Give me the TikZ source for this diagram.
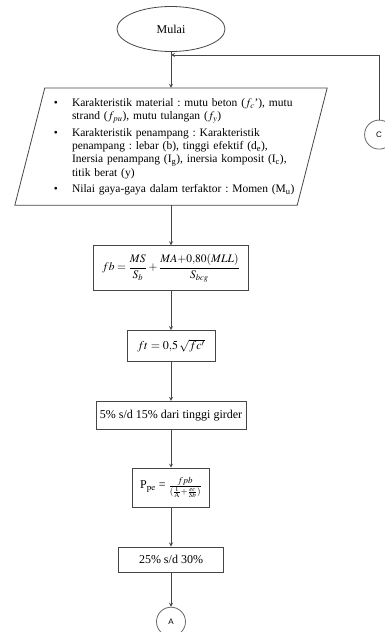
\documentclass[tikz,border=0pt]{standalone}
\usepackage{mathptmx}
\usepackage{fontspec}
\setmainfont{Liberation Serif}
\setsansfont{Liberation Sans}
\usepackage{enumitem}
\usepackage{tikz}
\usetikzlibrary{shapes, arrows, positioning}
\usepackage{xcolor}
\definecolor{linegray}{RGB}{70,70,70}
\definecolor{circgray}{RGB}{105,105,105}
\tikzstyle{startstop} = [ellipse, minimum width=108pt, minimum height=45pt, draw=linegray, line width=0.8pt]
\tikzstyle{io}        = [rectangle, minimum width=282pt, minimum height=117pt, inner sep=0pt]
\tikzstyle{iobox}     = [draw=linegray, line width=0.8pt, line join=miter]
\tikzstyle{itemtext}  = [text width=254pt, inner sep=0pt, font=\fontsize{11.5}{13.3}\selectfont]
\tikzstyle{process}   = [rectangle, text centered, inner sep=2pt, draw=linegray, line width=0.8pt]
\tikzstyle{connector} = [circle, minimum size=29pt, inner sep=0pt, draw=circgray, line width=0.8pt, font=\sffamily\fontsize{8}{9}\selectfont]
\tikzstyle{arrow}     = [line width=0.8pt, linegray, ->, >=stealth]

\begin{document}
\frenchspacing
\begin{tikzpicture}[node distance=39pt, x=1pt, y=1pt, font=\fontsize{12}{14}\selectfont]
    \useasboundingbox (0,0) rectangle (385,-632);

    \node (start)  [startstop] at (171,-29) {Mulai};
    \node (input)  [io, below=36pt of start] {};
    \draw [iobox] ([xshift=15pt]input.north west) -- ([xshift=15pt]input.north east)
        -- ([xshift=-15pt]input.south east) -- ([xshift=-15pt]input.south west) -- cycle;
    \node (inputtext) [itemtext] at ([xshift=10pt, yshift=2.5pt]input.center) {%
        \begin{itemize}[leftmargin=18pt, labelsep=14pt, itemsep=3pt, topsep=0pt, parsep=0pt, partopsep=0pt]
            \item Karakteristik material : mutu beton ($f_c$\textquoteright), mutu\\ strand ($f_{pu}$), mutu tulangan ($f_y$)
            \item Karakteristik penampang : Karakteristik\\ penampang : lebar (b), tinggi efektif (d\textsubscript{e}),\\ Inersia penampang (I\textsubscript{g}), inersia komposit (I\textsubscript{c}),\\ titik berat (y)
            \item Nilai gaya-gaya dalam terfaktor : Momen (M\textsubscript{u})
        \end{itemize}};
    \node (fb)     [process, minimum width=155pt, minimum height=45pt, below=40pt of input, font=\fontsize{11.5}{13}\selectfont]
        {$\displaystyle fb = \frac{MS}{S_b} + \frac{MA{+}0{,}80(MLL)}{S_{bcg}}$};
    \node (ft)     [process, minimum width=88pt, minimum height=31pt, below=of fb] {$ft = 0{,}5\,\sqrt{fc'}$};
    \node (tendon) [process, minimum width=150pt, minimum height=28pt, below=of ft] {5\% s/d 15\% dari tinggi girder};
    \node (ppe)    [process, minimum width=77pt, minimum height=39pt, below=38pt of tendon]
        {P$_{\mathrm{pe}}$ = $\frac{fpb}{(\frac{1}{\mathrm{A}}+\frac{ec}{Sb})}$};
    \node (loss)   [process, minimum width=105pt, minimum height=25pt, below=of ppe] {25\% s/d 30\%};
    \node (a)      [connector, below=34.5pt of loss] {A};
    \node (c)      [connector, right=52pt of input.east, yshift=12pt] {C};
    \coordinate (join) at ([yshift=-3pt]start.south);

    \draw [arrow] (start)  -- (input);
    \draw [arrow] (input)  -- (fb);
    \draw [arrow] (fb)     -- (ft);
    \draw [arrow] (ft)     -- (tendon);
    \draw [arrow] (tendon) -- (ppe);
    \draw [arrow] (ppe)    -- (loss);
    \draw [arrow] (loss)   -- (a);
    \draw [arrow] (c)      |- (join);
\end{tikzpicture}
\end{document}
